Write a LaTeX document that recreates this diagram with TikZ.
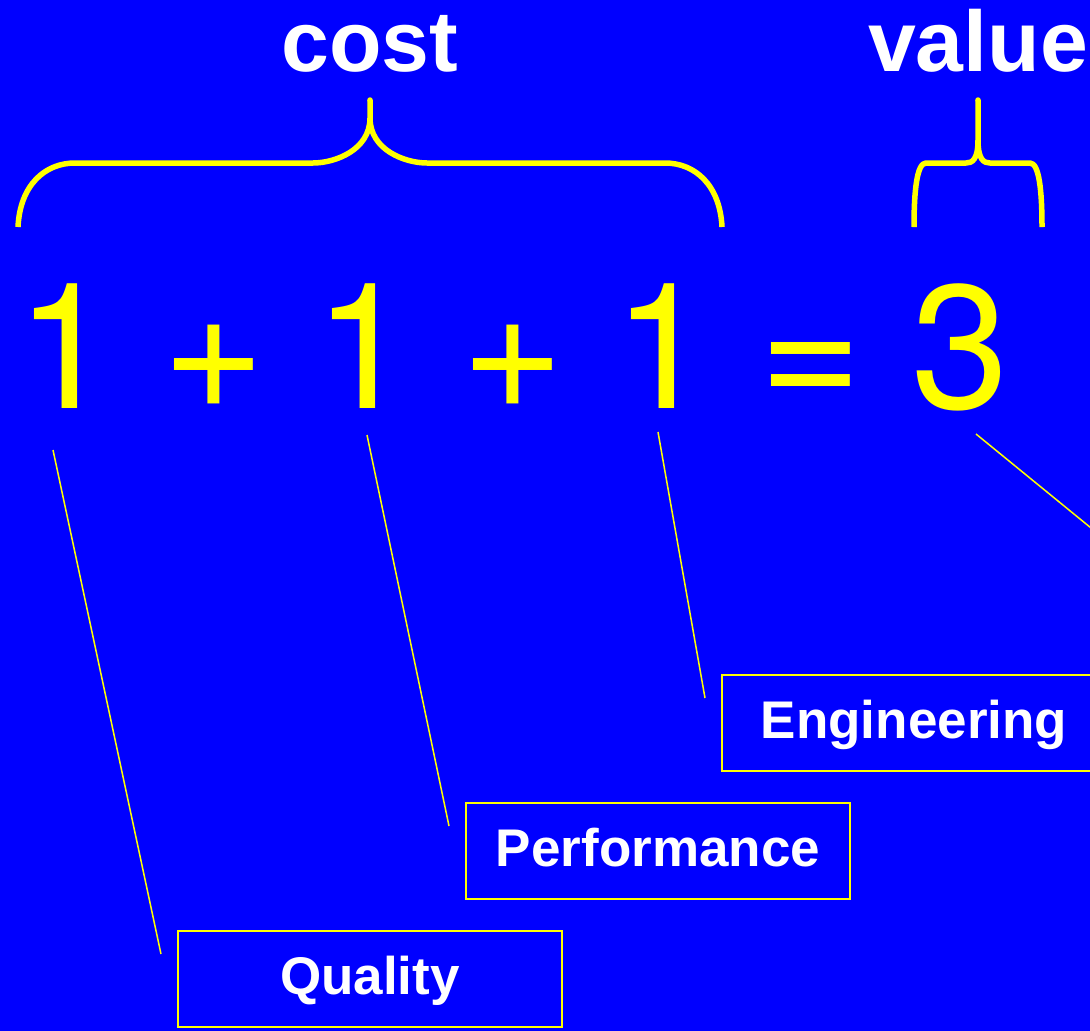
\documentclass[tikz,border=0pt]{standalone}
\usepackage{fontspec}
\setmainfont{Liberation Sans}
\newfontfamily\eqfont{TeX Gyre Heros}
\usetikzlibrary{calc}
\definecolor{bgblue}{RGB}{0,0,255}
\definecolor{yel}{RGB}{255,255,0}
\begin{document}
\begin{tikzpicture}[x=1pt,y=-1pt,
  titletext/.style={text=white,font=\bfseries\fontsize{86}{86}\selectfont,inner sep=0pt,anchor=base},
  bracepath/.style={draw=yel,line width=5.5pt,line cap=butt,line join=round},
  callout/.style={draw=yel,line width=1.5pt},
  tagbox/.style={draw=yel,line width=2pt,text=white,font=\bfseries\fontsize{53}{53}\selectfont,
    minimum width=384pt,minimum height=96pt,inner sep=0pt,text height=38pt,text depth=8pt}]
\useasboundingbox (0,0) rectangle (1090,1031);
\clip (0,0) rectangle (1090,1031);
\fill[bgblue] (0,0) rectangle (1090,1031);

% titles
\node[titletext] (cost) at (370,71) {cost};
\node[titletext] (value) at (978,71) {value};

% cost brace
\draw[bracepath] (18,227) .. controls (20,185) and (45,163) .. (75,163) -- (313,163)
  .. controls (335,163) and (370,150) .. (370,118) -- (370,100);
\draw[bracepath] (722,227) .. controls (720,185) and (695,163) .. (665,163) -- (427,163)
  .. controls (405,163) and (370,150) .. (370,118);
\fill[yel] (370,100) circle (2.75);

% value brace
\draw[bracepath] (914,227) .. controls (914,190) and (917,163) .. (926,163) -- (966,163)
  .. controls (972,163) and (978,160) .. (978,140) -- (978,100);
\draw[bracepath] (1042,227) .. controls (1042,190) and (1039,163) .. (1030,163) -- (990,163)
  .. controls (984,163) and (978,160) .. (978,140);
\fill[yel] (978,100) circle (2.75);

% equation
\node[anchor=base west,inner sep=0pt,text=yel,font=\eqfont\fontsize{176}{176}\selectfont] (eq) at (16,408) {1 + 1 + 1 = 3};

% boxes
\node[tagbox] (qual) at (370,979) {Quality};
\node[tagbox] (perf) at (658,851) {Performance};
\node[tagbox] (eng) at (914,723) {Engineering};

% callout start points
\coordinate (s1) at (53,450);
\coordinate (s2) at (367,435);
\coordinate (s3) at (658,432);
\coordinate (s4) at (976,434);
\coordinate (offpage) at (1200,617);

\draw[callout] (s1) -- ($(qual.north west)+(-16,24)$);
\draw[callout] (s2) -- ($(perf.north west)+(-16,24)$);
\draw[callout] (s3) -- ($(eng.north west)+(-16,24)$);
\draw[callout] (s4) -- (offpage);
\end{tikzpicture}
\end{document}
